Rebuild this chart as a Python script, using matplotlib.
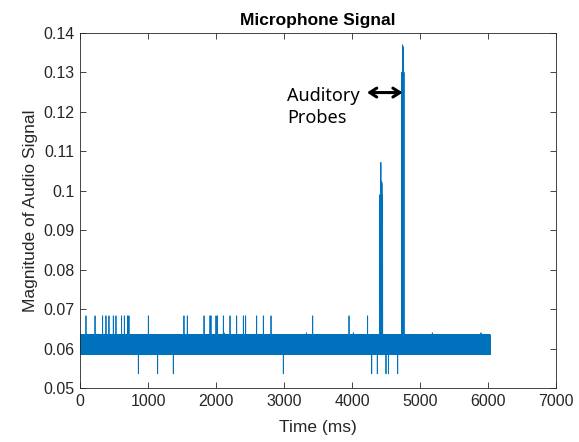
import numpy as np
import matplotlib.pyplot as plt

# recording length and the two levels the idle signal toggles between
duration_ms = 6030
band_low = 0.0585
band_high = 0.0635

# short clicks above / below the idle band (ms)
up_spike_times = [88, 221, 333, 382, 426, 490, 529, 612, 652, 701, 720, 858, 1005,
                  1142, 1372, 1529, 1578, 1824, 1912, 1926, 2000, 2020, 2108, 2206,
                  2304, 2402, 2436, 2598, 2696, 2809, 3422, 3956, 4230]
up_spike_value = 0.0683
down_spike_times = [858, 1142, 1372, 2990, 4290, 4372, 4500, 4535, 4672]
down_spike_value = 0.0536
bump_times = [2118, 3330, 4019, 5181, 5897]
bump_value = 0.0640

# auditory probe peaks
probe_times = [4410, 4425, 4436, 4438, 4440, 4442, 4450,
               4730, 4745, 4750, 4752, 4755, 4765]
probe_values = [0.0990, 0.1072, 0.1024, 0.0975, 0.1020, 0.0980, 0.0990,
                0.1300, 0.1370, 0.1320, 0.1365, 0.1325, 0.1300]

t = np.arange(duration_ms + 1)
sig = np.where(t % 2 == 0, band_low, band_high)
for tt in up_spike_times:
    sig[tt] = up_spike_value
for tt in down_spike_times:
    sig[tt] = down_spike_value
for tt in bump_times:
    sig[tt] = bump_value
for tt, v in zip(probe_times, probe_values):
    sig[tt] = v

plt.rcParams['font.family'] = ['Liberation Sans', 'DejaVu Sans']
fig = plt.figure(figsize=(5.79, 4.42), dpi=100)
ax = fig.add_axes([80/579, 1 - 388/442, 476/579, 355/442])
ax.plot(t, sig, color='#0072BD', lw=0.6)

ax.set_xlim(0, 7000)
ax.set_ylim(0.05, 0.14)
ax.set_xticks(np.arange(0, 7001, 1000))
ax.set_yticks(np.arange(0.05, 0.1401, 0.01))
ax.set_yticklabels(['0.05', '0.06', '0.07', '0.08', '0.09', '0.1',
                    '0.11', '0.12', '0.13', '0.14'])
ax.tick_params(direction='in', top=True, right=True, length=4, width=0.6,
               color='#262626', labelsize=11.5, labelcolor='#262626', pad=4)
for s in ax.spines.values():
    s.set_color('#262626')
    s.set_linewidth(0.6)

ax.set_title('Microphone Signal', fontsize=12.5, fontweight='bold', pad=6)
ax.set_xlabel('Time (ms)', fontsize=12.5, color='#262626', labelpad=8)
ax.set_ylabel('Magnitude of Audio Signal', fontsize=12.5, color='#262626', labelpad=4)

ax.annotate('', xy=(4220, 0.1249), xytext=(4745, 0.1249),
            arrowprops=dict(arrowstyle='<->,head_length=0.5,head_width=0.32',
                            color='black', lw=2.2, shrinkA=0, shrinkB=0))
ax.text(3044, 0.1264, 'Auditory\nProbes', fontsize=13, family=['Noto Sans'],
        ha='left', va='top', linespacing=1.3)

fig.savefig('out.png', dpi=100)
